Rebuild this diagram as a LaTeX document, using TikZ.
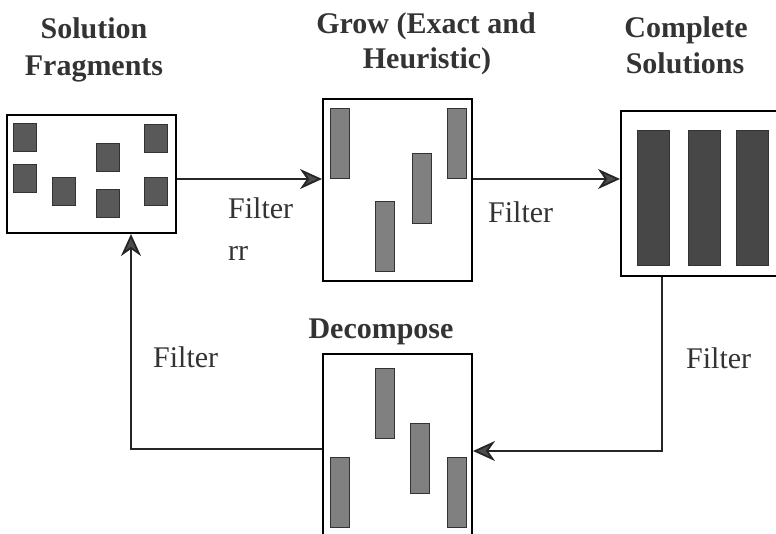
\documentclass[tikz,border=0pt]{standalone}
\usepackage{fontspec}
\setmainfont{Liberation Serif}
\usetikzlibrary{arrows.meta}

\begin{document}
\begin{tikzpicture}[x=1pt,y=-1pt,
  box/.style={draw=black,line width=2pt,fill=white,inner sep=0pt},
  flow/.style={line width=1.8pt,draw=black!85,-{Stealth[length=22pt,width=20pt,inset=7pt,fill=black!70]}},
  title/.style={font=\fontsize{30}{36}\selectfont\bfseries,text=black!80,anchor=base,inner sep=0pt},
  lbl/.style={font=\fontsize{30}{36}\selectfont,text=black!80,anchor=base west,inner sep=0pt},
  tile/.style={fill=#1,draw=black!80,line width=0.8pt}]

  \useasboundingbox (0,0) rectangle (776,533);

  % draw the four panels
  \node[box,minimum width=169pt,minimum height=118pt] (frag) at (91.5,174) {};
  \node[box,minimum width=149pt,minimum height=182pt] (grow) at (397.5,190) {};
  \node[box,minimum width=158pt,minimum height=165pt] (done) at (700,193.5) {};
  \node[box,minimum width=149pt,minimum height=192pt] (decomp) at (397.5,450) {};

  % draw the pieces inside
  \foreach \x/\y in {13/123,13/164,52/177,96/143,96/189,144/124,144/177}
    \filldraw[tile=black!65] (\x,\y) rectangle ++(23,28);
  \foreach \x/\y in {330/108,375/201,412/153,447/108}
    \filldraw[tile=black!50] (\x,\y) rectangle ++(19,70);
  \foreach \x in {637,688,736}
    \filldraw[tile=black!72] (\x,130) rectangle ++(32,135);
  \foreach \x/\y in {375/368,410/423,330/457,447/457}
    \filldraw[tile=black!50] (\x,\y) rectangle ++(19,70);

  % titles
  \node[title] (t1a) at (94,38) {Solution};
  \node[title] (t1b) at (94,75) {Fragments};
  \node[title] (t2a) at (426,33) {Grow (Exact and};
  \node[title] (t2b) at (427,68) {Heuristic)};
  \node[title] (t3a) at (686,37) {Complete};
  \node[title] (t3b) at (685,73) {Solutions};
  \node[title] (t4) at (381,338) {Decompose};

  % connectors
  \coordinate (r1) at (0,179);
  \coordinate (r2) at (662,451);
  \coordinate (r3) at (131,449);
  \draw[flow] (frag.east |- r1) -- (grow.west |- r1);
  \draw[flow] (grow.east |- r1) -- (done.west |- r1);
  \draw[flow] (done.south -| r2) |- (decomp.east |- r2);
  \draw[flow] (decomp.west |- r3) -| (frag.south -| r3);

  % labels
  \node[lbl] (f1) at (228,218) {Filter};
  \node[lbl] (f1b) at (228,260) {rr};
  \node[lbl] (f2) at (488,222) {Filter};
  \node[lbl] (f3) at (153,367) {Filter};
  \node[lbl] (f4) at (686,368) {Filter};

\end{tikzpicture}
\end{document}
